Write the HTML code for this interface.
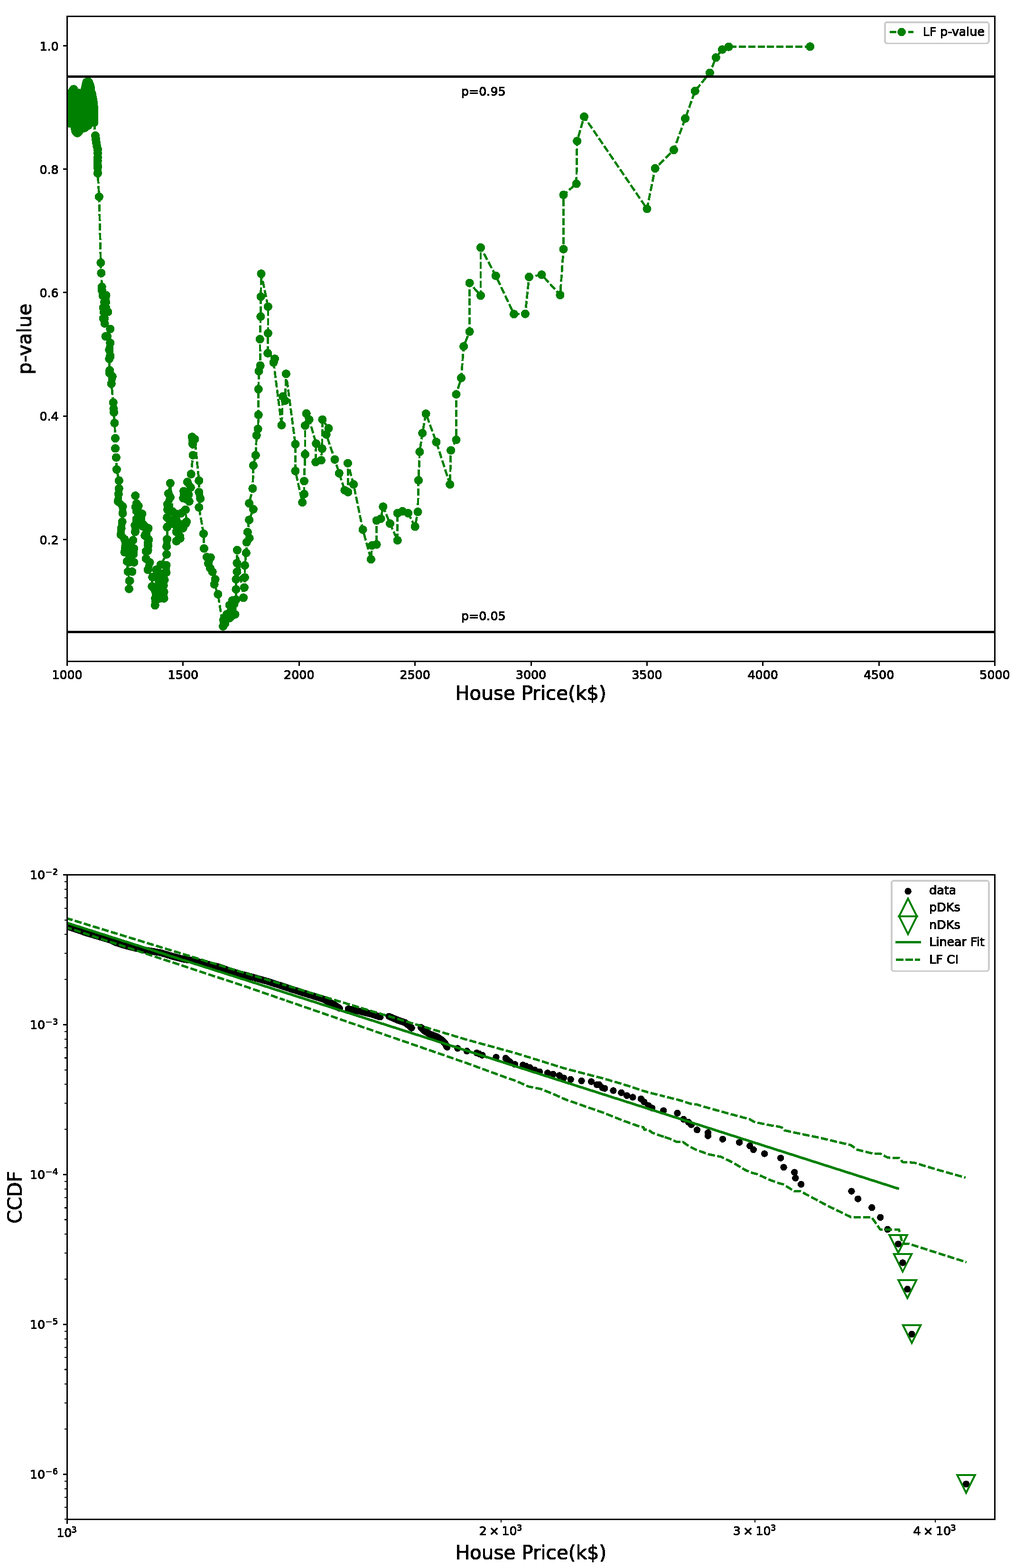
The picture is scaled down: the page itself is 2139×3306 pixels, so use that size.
<!DOCTYPE html>
<html lang="en"><head><meta charset="utf-8"><title>LF p-value and CCDF of House Price</title>
<style>
html,body{margin:0;padding:0;background:#fff;}
svg{display:block;}
</style></head>
<body>
<svg width="2139" height="3306" viewBox="0 0 2139 3306" shape-rendering="crispEdges">
<defs><filter id="thr" x="-5%" y="-5%" width="110%" height="110%" color-interpolation-filters="sRGB"><feComponentTransfer result="t"><feFuncA type="discrete" tableValues="0 1"/></feComponentTransfer><feOffset in="t" dx="-1" dy="0" result="a"/><feOffset in="t" dx="0" dy="-1" result="b"/><feOffset in="t" dx="-1" dy="-1" result="c"/><feMerge><feMergeNode in="t"/><feMergeNode in="a"/><feMergeNode in="b"/><feMergeNode in="c"/></feMerge></filter></defs>
<rect x="0" y="0" width="2139" height="3306" fill="#fff"/>
<g id="chart1">
<clipPath id="c1"><rect x="141.5" y="34.6" width="1955" height="1359.9"/></clipPath>
<g clip-path="url(#c1)">
<polyline points="142.1,204.3 142.1,258.8 146.6,259.8 148.5,198.4 155.3,188.1 155.3,256.9 159.2,276.4 163.1,280.6 167,276.4 163.1,195.5 170.9,198.4 171.9,270.5 178.7,269.5 178.7,190.6 182.6,173.1 185.5,264.7 188.4,254.9 186.5,172.5 190.4,181.9 194.3,249.1 197.8,258.4 197.2,217.9 193.3,196.5 197.8,225.7 198.2,241.3 198.2,258.4 201.1,286.1 202.1,293.9 203.1,301.7 204.4,308.5 206,315.3 206,323.1 206,331.9 205.8,338.7 205.6,346.5 205.8,353.3 206,350.7 206,365.3 208.9,415 212.4,554 213.4,575.8 214.7,605 214.7,611.8 216.7,623.5 223.5,622.5 223.1,637.1 217.7,648.8 227.4,657.6 217.7,671.2 220.6,681.9 232.3,693.6 222.5,709.2 232.3,722.9 230.3,737.5 232.3,750.1 232.3,751.7 230.3,756.6 231.3,780.9 230.9,786.8 236.8,793.6 234.8,809.2 238.7,848.7 239.5,861.8 240.1,869.5 241.4,891.9 243,924.1 243,945.5 244.9,964.6 245.9,989.9 250.8,1013.3 250.8,1029.9 249.8,1041.6 248.8,1057.1 258.6,1067.9 258.6,1082.5 257.6,1100 255.6,1113.6 254.7,1127.3 262.5,1137 264.4,1150.6 262.5,1164.3 263.8,1156.5 267.7,1183.8 269.7,1205.2 272.6,1224.7 272,1241.6 273.6,1224.7 278.4,1205.2 282.3,1185.7 281.4,1168.2 282.3,1156.5 280.4,1139 285.3,1119.5 284.3,1107.8 284.9,1121.4 285.8,1107.8 287.8,1094.2 285.8,1068.8 287.8,1062 285.3,1045.1 291.7,1066.9 299.5,1083.4 297.5,1098.1 300.5,1109.7 312.1,1114.6 305.3,1129.2 313.1,1138 312.1,1150.6 311.2,1161.4 301.8,1105.8 312.5,1113.6 307.7,1125.3 312.5,1137 311.6,1144.8 307.7,1162.3 311.6,1160.4 307.7,1177.9 315.5,1185.7 311.6,1201.3 321.3,1216.9 320.3,1236.4 328.1,1248.1 327.1,1261.7 326.8,1276.3 336.9,1261.7 345.6,1261.7 345.6,1248.1 336.9,1236.4 344.7,1234.4 346.6,1222.7 336.9,1209.1 350.5,1207.1 350.5,1191.6 338.8,1190.6 351.1,1168.8 351.1,1152.2 352.1,1137 352.5,1110.7 352.1,1111.7 352.1,1091.2 353.1,1074.7 353.1,1063 358.9,1048.4 355,1040.6 358.9,1018.8 363.8,1078.6 363.8,1098.1 373.5,1084.4 371.6,1121.4 379.4,1131.2 371.6,1140.9 371.9,1140.9 379.7,1135.1 375.8,1125.3 371.9,1109.7 385.6,1113.6 391.4,1103.9 383.2,1105.8 393,1100 391,1074.7 381.3,1082.5 398.8,1057.1 386.2,1050.3 387.1,1035.7 401.8,1027.9 394.9,1016.2 402.7,999.7 406.6,959.7 405.6,934.8 404.7,921.2 410.5,926 419.3,1013.3 419.3,1037.7 422.2,1051.3 419.3,1069.8 429,1125.3 430,1156.5 436,1174.5 443.8,1175.5 439,1188.2 442.9,1197.9 447.7,1205.7 453.6,1221.3 451.6,1232 459.4,1252.9 470.1,1320.6 471.1,1307 477.9,1295.3 483.8,1303.1 495.5,1295.3 483.8,1275.8 493.5,1273.9 497.4,1264.2 497.4,1242.7 497.4,1221.3 499.4,1205.7 499.4,1187.2 499.9,1159.9 513,1260.3 514.9,1238.8 515.9,1217.4 515.9,1192.1 518.8,1165.8 519.8,1143.4 525.6,1134.6 521.8,1121.9 525.1,1096.2 533.9,1073.8 525.1,1061.2 532.5,1030 533.9,981.3 538.8,959.9 540.7,918 543.6,904.4 544.7,874.8 544.7,820.6 545.5,782.5 548.6,770.8 547.8,715.1 549.4,667.5 549.7,625.5 550.5,577.1 564.9,646.5 564.9,702.6 564.2,744.7 579,756.4 576.6,764.2 593.5,896.4" fill="none" stroke="#008000" stroke-width="4.8" stroke-dasharray="15 4.875" stroke-dashoffset="0.00" stroke-linejoin="round"/>
<polyline points="593.5,896.4 596,836 600.9,844.7 602.9,788.2 622.5,936.5 622.5,993 637.2,1059.2 641,1041.7 641,1014.4 643,957.9 643,897.3 645.7,872 651.6,884.7 666.2,935.3 665.2,974.3 676.9,970.4 678.8,946 679.4,884.7 692.5,903.2 687.6,915.9 705.5,968.8 714.7,997.9 726.4,1033.7 733.4,1037.6 733,976.6 745.1,1021.3 764.6,1116.7 781.9,1179.3 783.9,1150 793.6,1148 793.6,1097.5 802.6,1093.6 807.3,1068.3 822,1104 837.7,1139.2 837.7,1082 848.2,1078 859.9,1082 874.7,1110.3 880.5,1079.2 882,1012.6 884.4,952.6 890.2,913.2 897.6,872.3 919.5,932 948.3,1021.5 950.2,949.5 961.5,927.3 961.5,831.4 972,796.8 977.1,730.3 989.6,699.2 989.6,596.7 1013,623.2 1013,521.9 1044.9,581.5 1083.1,662.2 1106.9,661.8 1115,583.9 1141.5,579.2 1180.5,622 1187.5,525.4 1187.5,410.9 1214.7,387.4 1216.2,297.4 1231,246 1363.5,440.3 1380.6,355 1420,316.1 1444.1,249.8 1464.8,191.8 1495.9,153.6 1508.8,121.3 1522,104.5 1535.7,98.7 1707.1,98.3" fill="none" stroke="#008000" stroke-width="4.8" stroke-dasharray="15 4.875" stroke-dashoffset="18.42" stroke-linejoin="round"/>
<polyline points="142.1,204.3 142.1,258.8 146.6,259.8 148.5,198.4 155.3,188.1 155.3,256.9 159.2,276.4 163.1,280.6 167,276.4 163.1,195.5 170.9,198.4 171.9,270.5 178.7,269.5 178.7,190.6 182.6,173.1 185.5,264.7 188.4,254.9 186.5,172.5 190.4,181.9 194.3,249.1 197.8,258.4 197.2,217.9 193.3,196.5 197.8,225.7 198.2,241.3 198.2,258.4" fill="none" stroke="#008000" stroke-width="18.2" stroke-linejoin="round" stroke-linecap="round"/>
<polyline points="201.1,286.1 202.1,293.9 203.1,301.7 204.4,308.5 206,315.3 206,323.1 206,331.9 205.8,338.7 205.6,346.5 205.8,353.3 206,350.7 206,365.3" fill="none" stroke="#008000" stroke-width="15.5" stroke-linejoin="round" stroke-linecap="round"/>
<polyline points="214.7,605 214.7,611.8 216.7,623.5 223.5,622.5 223.1,637.1 217.7,648.8 227.4,657.6" fill="none" stroke="#008000" stroke-width="15.5" stroke-linejoin="round" stroke-linecap="round"/>
<polyline points="217.7,671.2 220.6,681.9" fill="none" stroke="#008000" stroke-width="15.5" stroke-linejoin="round" stroke-linecap="round"/>
<polyline points="232.3,722.9 230.3,737.5 232.3,750.1 232.3,751.7 230.3,756.6" fill="none" stroke="#008000" stroke-width="15.5" stroke-linejoin="round" stroke-linecap="round"/>
<polyline points="231.3,780.9 230.9,786.8 236.8,793.6 234.8,809.2" fill="none" stroke="#008000" stroke-width="15.5" stroke-linejoin="round" stroke-linecap="round"/>
<polyline points="250.8,1029.9 249.8,1041.6 248.8,1057.1 258.6,1067.9 258.6,1082.5" fill="none" stroke="#008000" stroke-width="15.5" stroke-linejoin="round" stroke-linecap="round"/>
<polyline points="257.6,1100 255.6,1113.6 254.7,1127.3 262.5,1137 264.4,1150.6 262.5,1164.3 263.8,1156.5" fill="none" stroke="#008000" stroke-width="15.5" stroke-linejoin="round" stroke-linecap="round"/>
<polyline points="281.4,1168.2 282.3,1156.5" fill="none" stroke="#008000" stroke-width="15.5" stroke-linejoin="round" stroke-linecap="round"/>
<polyline points="285.3,1119.5 284.3,1107.8 284.9,1121.4 285.8,1107.8 287.8,1094.2" fill="none" stroke="#008000" stroke-width="15.5" stroke-linejoin="round" stroke-linecap="round"/>
<polyline points="285.8,1068.8 287.8,1062" fill="none" stroke="#008000" stroke-width="15.5" stroke-linejoin="round" stroke-linecap="round"/>
<polyline points="299.5,1083.4 297.5,1098.1 300.5,1109.7 312.1,1114.6 305.3,1129.2 313.1,1138 312.1,1150.6 311.2,1161.4" fill="none" stroke="#008000" stroke-width="15.5" stroke-linejoin="round" stroke-linecap="round"/>
<polyline points="301.8,1105.8 312.5,1113.6 307.7,1125.3 312.5,1137 311.6,1144.8" fill="none" stroke="#008000" stroke-width="15.5" stroke-linejoin="round" stroke-linecap="round"/>
<polyline points="307.7,1162.3 311.6,1160.4" fill="none" stroke="#008000" stroke-width="15.5" stroke-linejoin="round" stroke-linecap="round"/>
<polyline points="307.7,1177.9 315.5,1185.7 311.6,1201.3" fill="none" stroke="#008000" stroke-width="15.5" stroke-linejoin="round" stroke-linecap="round"/>
<polyline points="320.3,1236.4 328.1,1248.1 327.1,1261.7 326.8,1276.3" fill="none" stroke="#008000" stroke-width="15.5" stroke-linejoin="round" stroke-linecap="round"/>
<polyline points="336.9,1261.7 345.6,1261.7 345.6,1248.1 336.9,1236.4 344.7,1234.4 346.6,1222.7" fill="none" stroke="#008000" stroke-width="15.5" stroke-linejoin="round" stroke-linecap="round"/>
<polyline points="336.9,1209.1 350.5,1207.1 350.5,1191.6 338.8,1190.6" fill="none" stroke="#008000" stroke-width="15.5" stroke-linejoin="round" stroke-linecap="round"/>
<polyline points="351.1,1152.2 352.1,1137" fill="none" stroke="#008000" stroke-width="15.5" stroke-linejoin="round" stroke-linecap="round"/>
<polyline points="352.5,1110.7 352.1,1111.7" fill="none" stroke="#008000" stroke-width="15.5" stroke-linejoin="round" stroke-linecap="round"/>
<polyline points="353.1,1074.7 353.1,1063 358.9,1048.4 355,1040.6" fill="none" stroke="#008000" stroke-width="15.5" stroke-linejoin="round" stroke-linecap="round"/>
<polyline points="371.6,1121.4 379.4,1131.2 371.6,1140.9 371.9,1140.9 379.7,1135.1 375.8,1125.3 371.9,1109.7 385.6,1113.6 391.4,1103.9" fill="none" stroke="#008000" stroke-width="15.5" stroke-linejoin="round" stroke-linecap="round"/>
<polyline points="383.2,1105.8 393,1100" fill="none" stroke="#008000" stroke-width="15.5" stroke-linejoin="round" stroke-linecap="round"/>
<polyline points="391,1074.7 381.3,1082.5" fill="none" stroke="#008000" stroke-width="15.5" stroke-linejoin="round" stroke-linecap="round"/>
<polyline points="398.8,1057.1 386.2,1050.3 387.1,1035.7" fill="none" stroke="#008000" stroke-width="15.5" stroke-linejoin="round" stroke-linecap="round"/>
<polyline points="401.8,1027.9 394.9,1016.2" fill="none" stroke="#008000" stroke-width="15.5" stroke-linejoin="round" stroke-linecap="round"/>
<polyline points="405.6,934.8 404.7,921.2 410.5,926" fill="none" stroke="#008000" stroke-width="15.5" stroke-linejoin="round" stroke-linecap="round"/>
<polyline points="419.3,1037.7 422.2,1051.3" fill="none" stroke="#008000" stroke-width="15.5" stroke-linejoin="round" stroke-linecap="round"/>
<polyline points="436,1174.5 443.8,1175.5 439,1188.2 442.9,1197.9 447.7,1205.7" fill="none" stroke="#008000" stroke-width="15.5" stroke-linejoin="round" stroke-linecap="round"/>
<polyline points="453.6,1221.3 451.6,1232" fill="none" stroke="#008000" stroke-width="15.5" stroke-linejoin="round" stroke-linecap="round"/>
<polyline points="470.1,1320.6 471.1,1307 477.9,1295.3 483.8,1303.1 495.5,1295.3" fill="none" stroke="#008000" stroke-width="15.5" stroke-linejoin="round" stroke-linecap="round"/>
<polyline points="483.8,1275.8 493.5,1273.9 497.4,1264.2" fill="none" stroke="#008000" stroke-width="15.5" stroke-linejoin="round" stroke-linecap="round"/>
<polyline points="371.6,1096.1 363.8,1103.9" fill="none" stroke="#008000" stroke-width="15.5" stroke-linejoin="round" stroke-linecap="round"/>
<polyline points="271.6,1144.8 272.2,1158.4 272.6,1174 271.6,1185.7" fill="none" stroke="#008000" stroke-width="15.5" stroke-linejoin="round" stroke-linecap="round"/>
<polyline points="329.1,1201.3 333,1216.9 334.9,1232.5 336.9,1248.1 334.9,1259.7" fill="none" stroke="#008000" stroke-width="15.5" stroke-linejoin="round" stroke-linecap="round"/>
<polyline points="474,1314.8 477.9,1305.1 487.7,1297.3 485.7,1289.5 489.6,1283.6 489.6,1266.1" fill="none" stroke="#008000" stroke-width="15.5" stroke-linejoin="round" stroke-linecap="round"/>
<polyline points="272.2,1144.8 273.2,1156.5 273.2,1168.2" fill="none" stroke="#008000" stroke-width="15.5" stroke-linejoin="round" stroke-linecap="round"/>
<polyline points="220,637.1 223.1,648.8 219,658.6 220.2,671.2" fill="none" stroke="#008000" stroke-width="15.5" stroke-linejoin="round" stroke-linecap="round"/>
<g fill="#008000">
<circle cx="142.1" cy="204.3" r="9.1"/>
<circle cx="142.1" cy="258.8" r="9.1"/>
<circle cx="146.6" cy="259.8" r="9.1"/>
<circle cx="148.5" cy="198.4" r="9.1"/>
<circle cx="155.3" cy="188.1" r="9.1"/>
<circle cx="155.3" cy="256.9" r="9.1"/>
<circle cx="159.2" cy="276.4" r="9.1"/>
<circle cx="163.1" cy="280.6" r="9.1"/>
<circle cx="167" cy="276.4" r="9.1"/>
<circle cx="163.1" cy="195.5" r="9.1"/>
<circle cx="170.9" cy="198.4" r="9.1"/>
<circle cx="171.9" cy="270.5" r="9.1"/>
<circle cx="178.7" cy="269.5" r="9.1"/>
<circle cx="178.7" cy="190.6" r="9.1"/>
<circle cx="182.6" cy="173.1" r="9.1"/>
<circle cx="185.5" cy="264.7" r="9.1"/>
<circle cx="188.4" cy="254.9" r="9.1"/>
<circle cx="186.5" cy="172.5" r="9.1"/>
<circle cx="190.4" cy="181.9" r="9.1"/>
<circle cx="194.3" cy="249.1" r="9.1"/>
<circle cx="197.8" cy="258.4" r="9.1"/>
<circle cx="197.2" cy="217.9" r="9.1"/>
<circle cx="193.3" cy="196.5" r="9.1"/>
<circle cx="197.8" cy="225.7" r="9.1"/>
<circle cx="198.2" cy="241.3" r="9.1"/>
<circle cx="198.2" cy="258.4" r="9.1"/>
<circle cx="201.1" cy="286.1" r="9.1"/>
<circle cx="202.1" cy="293.9" r="9.1"/>
<circle cx="203.1" cy="301.7" r="9.1"/>
<circle cx="204.4" cy="308.5" r="9.1"/>
<circle cx="206" cy="315.3" r="9.1"/>
<circle cx="206" cy="323.1" r="9.1"/>
<circle cx="206" cy="331.9" r="9.1"/>
<circle cx="205.8" cy="338.7" r="9.1"/>
<circle cx="205.6" cy="346.5" r="9.1"/>
<circle cx="205.8" cy="353.3" r="9.1"/>
<circle cx="206" cy="350.7" r="9.1"/>
<circle cx="206" cy="365.3" r="9.1"/>
<circle cx="208.9" cy="415" r="9.1"/>
<circle cx="212.4" cy="554" r="9.1"/>
<circle cx="213.4" cy="575.8" r="9.1"/>
<circle cx="214.7" cy="605" r="9.1"/>
<circle cx="214.7" cy="611.8" r="9.1"/>
<circle cx="216.7" cy="623.5" r="9.1"/>
<circle cx="223.5" cy="622.5" r="9.1"/>
<circle cx="223.1" cy="637.1" r="9.1"/>
<circle cx="217.7" cy="648.8" r="9.1"/>
<circle cx="227.4" cy="657.6" r="9.1"/>
<circle cx="217.7" cy="671.2" r="9.1"/>
<circle cx="220.6" cy="681.9" r="9.1"/>
<circle cx="232.3" cy="693.6" r="9.1"/>
<circle cx="222.5" cy="709.2" r="9.1"/>
<circle cx="232.3" cy="722.9" r="9.1"/>
<circle cx="230.3" cy="737.5" r="9.1"/>
<circle cx="232.3" cy="750.1" r="9.1"/>
<circle cx="232.3" cy="751.7" r="9.1"/>
<circle cx="230.3" cy="756.6" r="9.1"/>
<circle cx="231.3" cy="780.9" r="9.1"/>
<circle cx="230.9" cy="786.8" r="9.1"/>
<circle cx="236.8" cy="793.6" r="9.1"/>
<circle cx="234.8" cy="809.2" r="9.1"/>
<circle cx="238.7" cy="848.7" r="9.1"/>
<circle cx="239.5" cy="861.8" r="9.1"/>
<circle cx="240.1" cy="869.5" r="9.1"/>
<circle cx="241.4" cy="891.9" r="9.1"/>
<circle cx="243" cy="924.1" r="9.1"/>
<circle cx="243" cy="945.5" r="9.1"/>
<circle cx="244.9" cy="964.6" r="9.1"/>
<circle cx="245.9" cy="989.9" r="9.1"/>
<circle cx="250.8" cy="1013.3" r="9.1"/>
<circle cx="250.8" cy="1029.9" r="9.1"/>
<circle cx="249.8" cy="1041.6" r="9.1"/>
<circle cx="248.8" cy="1057.1" r="9.1"/>
<circle cx="258.6" cy="1067.9" r="9.1"/>
<circle cx="258.6" cy="1082.5" r="9.1"/>
<circle cx="257.6" cy="1100" r="9.1"/>
<circle cx="255.6" cy="1113.6" r="9.1"/>
<circle cx="254.7" cy="1127.3" r="9.1"/>
<circle cx="262.5" cy="1137" r="9.1"/>
<circle cx="264.4" cy="1150.6" r="9.1"/>
<circle cx="262.5" cy="1164.3" r="9.1"/>
<circle cx="263.8" cy="1156.5" r="9.1"/>
<circle cx="267.7" cy="1183.8" r="9.1"/>
<circle cx="269.7" cy="1205.2" r="9.1"/>
<circle cx="272.6" cy="1224.7" r="9.1"/>
<circle cx="272" cy="1241.6" r="9.1"/>
<circle cx="273.6" cy="1224.7" r="9.1"/>
<circle cx="278.4" cy="1205.2" r="9.1"/>
<circle cx="282.3" cy="1185.7" r="9.1"/>
<circle cx="281.4" cy="1168.2" r="9.1"/>
<circle cx="282.3" cy="1156.5" r="9.1"/>
<circle cx="280.4" cy="1139" r="9.1"/>
<circle cx="285.3" cy="1119.5" r="9.1"/>
<circle cx="284.3" cy="1107.8" r="9.1"/>
<circle cx="284.9" cy="1121.4" r="9.1"/>
<circle cx="285.8" cy="1107.8" r="9.1"/>
<circle cx="287.8" cy="1094.2" r="9.1"/>
<circle cx="285.8" cy="1068.8" r="9.1"/>
<circle cx="287.8" cy="1062" r="9.1"/>
<circle cx="285.3" cy="1045.1" r="9.1"/>
<circle cx="291.7" cy="1066.9" r="9.1"/>
<circle cx="299.5" cy="1083.4" r="9.1"/>
<circle cx="297.5" cy="1098.1" r="9.1"/>
<circle cx="300.5" cy="1109.7" r="9.1"/>
<circle cx="312.1" cy="1114.6" r="9.1"/>
<circle cx="305.3" cy="1129.2" r="9.1"/>
<circle cx="313.1" cy="1138" r="9.1"/>
<circle cx="312.1" cy="1150.6" r="9.1"/>
<circle cx="311.2" cy="1161.4" r="9.1"/>
<circle cx="301.8" cy="1105.8" r="9.1"/>
<circle cx="312.5" cy="1113.6" r="9.1"/>
<circle cx="307.7" cy="1125.3" r="9.1"/>
<circle cx="312.5" cy="1137" r="9.1"/>
<circle cx="311.6" cy="1144.8" r="9.1"/>
<circle cx="307.7" cy="1162.3" r="9.1"/>
<circle cx="311.6" cy="1160.4" r="9.1"/>
<circle cx="307.7" cy="1177.9" r="9.1"/>
<circle cx="315.5" cy="1185.7" r="9.1"/>
<circle cx="311.6" cy="1201.3" r="9.1"/>
<circle cx="321.3" cy="1216.9" r="9.1"/>
<circle cx="320.3" cy="1236.4" r="9.1"/>
<circle cx="328.1" cy="1248.1" r="9.1"/>
<circle cx="327.1" cy="1261.7" r="9.1"/>
<circle cx="326.8" cy="1276.3" r="9.1"/>
<circle cx="336.9" cy="1261.7" r="9.1"/>
<circle cx="345.6" cy="1261.7" r="9.1"/>
<circle cx="345.6" cy="1248.1" r="9.1"/>
<circle cx="336.9" cy="1236.4" r="9.1"/>
<circle cx="344.7" cy="1234.4" r="9.1"/>
<circle cx="346.6" cy="1222.7" r="9.1"/>
<circle cx="336.9" cy="1209.1" r="9.1"/>
<circle cx="350.5" cy="1207.1" r="9.1"/>
<circle cx="350.5" cy="1191.6" r="9.1"/>
<circle cx="338.8" cy="1190.6" r="9.1"/>
<circle cx="351.1" cy="1168.8" r="9.1"/>
<circle cx="351.1" cy="1152.2" r="9.1"/>
<circle cx="352.1" cy="1137" r="9.1"/>
<circle cx="352.5" cy="1110.7" r="9.1"/>
<circle cx="352.1" cy="1111.7" r="9.1"/>
<circle cx="352.1" cy="1091.2" r="9.1"/>
<circle cx="353.1" cy="1074.7" r="9.1"/>
<circle cx="353.1" cy="1063" r="9.1"/>
<circle cx="358.9" cy="1048.4" r="9.1"/>
<circle cx="355" cy="1040.6" r="9.1"/>
<circle cx="358.9" cy="1018.8" r="9.1"/>
<circle cx="363.8" cy="1078.6" r="9.1"/>
<circle cx="363.8" cy="1098.1" r="9.1"/>
<circle cx="373.5" cy="1084.4" r="9.1"/>
<circle cx="371.6" cy="1121.4" r="9.1"/>
<circle cx="379.4" cy="1131.2" r="9.1"/>
<circle cx="371.6" cy="1140.9" r="9.1"/>
<circle cx="371.9" cy="1140.9" r="9.1"/>
<circle cx="379.7" cy="1135.1" r="9.1"/>
<circle cx="375.8" cy="1125.3" r="9.1"/>
<circle cx="371.9" cy="1109.7" r="9.1"/>
<circle cx="385.6" cy="1113.6" r="9.1"/>
<circle cx="391.4" cy="1103.9" r="9.1"/>
<circle cx="383.2" cy="1105.8" r="9.1"/>
<circle cx="393" cy="1100" r="9.1"/>
<circle cx="391" cy="1074.7" r="9.1"/>
<circle cx="381.3" cy="1082.5" r="9.1"/>
<circle cx="398.8" cy="1057.1" r="9.1"/>
<circle cx="386.2" cy="1050.3" r="9.1"/>
<circle cx="387.1" cy="1035.7" r="9.1"/>
<circle cx="401.8" cy="1027.9" r="9.1"/>
<circle cx="394.9" cy="1016.2" r="9.1"/>
<circle cx="402.7" cy="999.7" r="9.1"/>
<circle cx="406.6" cy="959.7" r="9.1"/>
<circle cx="405.6" cy="934.8" r="9.1"/>
<circle cx="404.7" cy="921.2" r="9.1"/>
<circle cx="410.5" cy="926" r="9.1"/>
<circle cx="419.3" cy="1013.3" r="9.1"/>
<circle cx="419.3" cy="1037.7" r="9.1"/>
<circle cx="422.2" cy="1051.3" r="9.1"/>
<circle cx="419.3" cy="1069.8" r="9.1"/>
<circle cx="429" cy="1125.3" r="9.1"/>
<circle cx="430" cy="1156.5" r="9.1"/>
<circle cx="436" cy="1174.5" r="9.1"/>
<circle cx="443.8" cy="1175.5" r="9.1"/>
<circle cx="439" cy="1188.2" r="9.1"/>
<circle cx="442.9" cy="1197.9" r="9.1"/>
<circle cx="447.7" cy="1205.7" r="9.1"/>
<circle cx="453.6" cy="1221.3" r="9.1"/>
<circle cx="451.6" cy="1232" r="9.1"/>
<circle cx="459.4" cy="1252.9" r="9.1"/>
<circle cx="470.1" cy="1320.6" r="9.1"/>
<circle cx="471.1" cy="1307" r="9.1"/>
<circle cx="477.9" cy="1295.3" r="9.1"/>
<circle cx="483.8" cy="1303.1" r="9.1"/>
<circle cx="495.5" cy="1295.3" r="9.1"/>
<circle cx="483.8" cy="1275.8" r="9.1"/>
<circle cx="493.5" cy="1273.9" r="9.1"/>
<circle cx="497.4" cy="1264.2" r="9.1"/>
<circle cx="497.4" cy="1242.7" r="9.1"/>
<circle cx="497.4" cy="1221.3" r="9.1"/>
<circle cx="499.4" cy="1205.7" r="9.1"/>
<circle cx="499.4" cy="1187.2" r="9.1"/>
<circle cx="499.9" cy="1159.9" r="9.1"/>
<circle cx="513" cy="1260.3" r="9.1"/>
<circle cx="514.9" cy="1238.8" r="9.1"/>
<circle cx="515.9" cy="1217.4" r="9.1"/>
<circle cx="515.9" cy="1192.1" r="9.1"/>
<circle cx="518.8" cy="1165.8" r="9.1"/>
<circle cx="519.8" cy="1143.4" r="9.1"/>
<circle cx="525.6" cy="1134.6" r="9.1"/>
<circle cx="521.8" cy="1121.9" r="9.1"/>
<circle cx="525.1" cy="1096.2" r="9.1"/>
<circle cx="533.9" cy="1073.8" r="9.1"/>
<circle cx="525.1" cy="1061.2" r="9.1"/>
<circle cx="532.5" cy="1030" r="9.1"/>
<circle cx="533.9" cy="981.3" r="9.1"/>
<circle cx="538.8" cy="959.9" r="9.1"/>
<circle cx="540.7" cy="918" r="9.1"/>
<circle cx="543.6" cy="904.4" r="9.1"/>
<circle cx="544.7" cy="874.8" r="9.1"/>
<circle cx="544.7" cy="820.6" r="9.1"/>
<circle cx="545.5" cy="782.5" r="9.1"/>
<circle cx="548.6" cy="770.8" r="9.1"/>
<circle cx="547.8" cy="715.1" r="9.1"/>
<circle cx="549.4" cy="667.5" r="9.1"/>
<circle cx="549.7" cy="625.5" r="9.1"/>
<circle cx="550.5" cy="577.1" r="9.1"/>
<circle cx="564.9" cy="646.5" r="9.1"/>
<circle cx="564.9" cy="702.6" r="9.1"/>
<circle cx="564.2" cy="744.7" r="9.1"/>
<circle cx="579" cy="756.4" r="9.1"/>
<circle cx="576.6" cy="764.2" r="9.1"/>
<circle cx="593.5" cy="896.4" r="9.1"/>
<circle cx="596" cy="836" r="9.1"/>
<circle cx="600.9" cy="844.7" r="9.1"/>
<circle cx="602.9" cy="788.2" r="9.1"/>
<circle cx="622.5" cy="936.5" r="9.1"/>
<circle cx="622.5" cy="993" r="9.1"/>
<circle cx="637.2" cy="1059.2" r="9.1"/>
<circle cx="641" cy="1041.7" r="9.1"/>
<circle cx="641" cy="1014.4" r="9.1"/>
<circle cx="643" cy="957.9" r="9.1"/>
<circle cx="643" cy="897.3" r="9.1"/>
<circle cx="645.7" cy="872" r="9.1"/>
<circle cx="651.6" cy="884.7" r="9.1"/>
<circle cx="666.2" cy="935.3" r="9.1"/>
<circle cx="665.2" cy="974.3" r="9.1"/>
<circle cx="676.9" cy="970.4" r="9.1"/>
<circle cx="678.8" cy="946" r="9.1"/>
<circle cx="679.4" cy="884.7" r="9.1"/>
<circle cx="692.5" cy="903.2" r="9.1"/>
<circle cx="687.6" cy="915.9" r="9.1"/>
<circle cx="705.5" cy="968.8" r="9.1"/>
<circle cx="714.7" cy="997.9" r="9.1"/>
<circle cx="726.4" cy="1033.7" r="9.1"/>
<circle cx="733.4" cy="1037.6" r="9.1"/>
<circle cx="733" cy="976.6" r="9.1"/>
<circle cx="745.1" cy="1021.3" r="9.1"/>
<circle cx="764.6" cy="1116.7" r="9.1"/>
<circle cx="781.9" cy="1179.3" r="9.1"/>
<circle cx="783.9" cy="1150" r="9.1"/>
<circle cx="793.6" cy="1148" r="9.1"/>
<circle cx="793.6" cy="1097.5" r="9.1"/>
<circle cx="802.6" cy="1093.6" r="9.1"/>
<circle cx="807.3" cy="1068.3" r="9.1"/>
<circle cx="822" cy="1104" r="9.1"/>
<circle cx="837.7" cy="1139.2" r="9.1"/>
<circle cx="837.7" cy="1082" r="9.1"/>
<circle cx="848.2" cy="1078" r="9.1"/>
<circle cx="859.9" cy="1082" r="9.1"/>
<circle cx="874.7" cy="1110.3" r="9.1"/>
<circle cx="880.5" cy="1079.2" r="9.1"/>
<circle cx="882" cy="1012.6" r="9.1"/>
<circle cx="884.4" cy="952.6" r="9.1"/>
<circle cx="890.2" cy="913.2" r="9.1"/>
<circle cx="897.6" cy="872.3" r="9.1"/>
<circle cx="919.5" cy="932" r="9.1"/>
<circle cx="948.3" cy="1021.5" r="9.1"/>
<circle cx="950.2" cy="949.5" r="9.1"/>
<circle cx="961.5" cy="927.3" r="9.1"/>
<circle cx="961.5" cy="831.4" r="9.1"/>
<circle cx="972" cy="796.8" r="9.1"/>
<circle cx="977.1" cy="730.3" r="9.1"/>
<circle cx="989.6" cy="699.2" r="9.1"/>
<circle cx="989.6" cy="596.7" r="9.1"/>
<circle cx="1013" cy="623.2" r="9.1"/>
<circle cx="1013" cy="521.9" r="9.1"/>
<circle cx="1044.9" cy="581.5" r="9.1"/>
<circle cx="1083.1" cy="662.2" r="9.1"/>
<circle cx="1106.9" cy="661.8" r="9.1"/>
<circle cx="1115" cy="583.9" r="9.1"/>
<circle cx="1141.5" cy="579.2" r="9.1"/>
<circle cx="1180.5" cy="622" r="9.1"/>
<circle cx="1187.5" cy="525.4" r="9.1"/>
<circle cx="1187.5" cy="410.9" r="9.1"/>
<circle cx="1214.7" cy="387.4" r="9.1"/>
<circle cx="1216.2" cy="297.4" r="9.1"/>
<circle cx="1231" cy="246" r="9.1"/>
<circle cx="1363.5" cy="440.3" r="9.1"/>
<circle cx="1380.6" cy="355" r="9.1"/>
<circle cx="1420" cy="316.1" r="9.1"/>
<circle cx="1444.1" cy="249.8" r="9.1"/>
<circle cx="1464.8" cy="191.8" r="9.1"/>
<circle cx="1495.9" cy="153.6" r="9.1"/>
<circle cx="1508.8" cy="121.3" r="9.1"/>
<circle cx="1522" cy="104.5" r="9.1"/>
<circle cx="1535.7" cy="98.7" r="9.1"/>
<circle cx="1707.1" cy="98.3" r="9.1"/>
<circle cx="287.8" cy="1077.9" r="9.1"/>
<circle cx="371.6" cy="1096.1" r="9.1"/>
<circle cx="363.8" cy="1103.9" r="9.1"/>
<circle cx="397.5" cy="1042.9" r="9.1"/>
<circle cx="271.6" cy="1144.8" r="9.1"/>
<circle cx="272.2" cy="1158.4" r="9.1"/>
<circle cx="272.6" cy="1174" r="9.1"/>
<circle cx="271.6" cy="1185.7" r="9.1"/>
<circle cx="329.1" cy="1201.3" r="9.1"/>
<circle cx="333" cy="1216.9" r="9.1"/>
<circle cx="334.9" cy="1232.5" r="9.1"/>
<circle cx="336.9" cy="1248.1" r="9.1"/>
<circle cx="334.9" cy="1259.7" r="9.1"/>
<circle cx="474" cy="1314.8" r="9.1"/>
<circle cx="477.9" cy="1305.1" r="9.1"/>
<circle cx="487.7" cy="1297.3" r="9.1"/>
<circle cx="485.7" cy="1289.5" r="9.1"/>
<circle cx="489.6" cy="1283.6" r="9.1"/>
<circle cx="489.6" cy="1266.1" r="9.1"/>
<circle cx="406.3" cy="936.5" r="9.1"/>
<circle cx="272.2" cy="1144.8" r="9.1"/>
<circle cx="273.2" cy="1156.5" r="9.1"/>
<circle cx="273.2" cy="1168.2" r="9.1"/>
<circle cx="220" cy="637.1" r="9.1"/>
<circle cx="223.1" cy="648.8" r="9.1"/>
<circle cx="219" cy="658.6" r="9.1"/>
<circle cx="220.2" cy="671.2" r="9.1"/>
<circle cx="226" cy="709.2" r="9.1"/>
</g>
<line x1="141.5" x2="2096.5" y1="161.6" y2="161.6" stroke="#000" stroke-width="5.2"/>
<line x1="141.5" x2="2096.5" y1="1332.4" y2="1332.4" stroke="#000" stroke-width="5.2"/>
</g>
<rect x="141.5" y="34.6" width="1955" height="1359.9" fill="none" stroke="#000" stroke-width="3.0"/>
<g stroke="#000" stroke-width="3.0">
<line x1="141.5" x2="141.5" y1="1394.5" y2="1404.3"/>
<line x1="385.9" x2="385.9" y1="1394.5" y2="1404.3"/>
<line x1="630.2" x2="630.2" y1="1394.5" y2="1404.3"/>
<line x1="874.6" x2="874.6" y1="1394.5" y2="1404.3"/>
<line x1="1119" x2="1119" y1="1394.5" y2="1404.3"/>
<line x1="1363.4" x2="1363.4" y1="1394.5" y2="1404.3"/>
<line x1="1607.8" x2="1607.8" y1="1394.5" y2="1404.3"/>
<line x1="1852.1" x2="1852.1" y1="1394.5" y2="1404.3"/>
<line x1="2096.5" x2="2096.5" y1="1394.5" y2="1404.3"/>
<line x1="132.7" x2="141.5" y1="1137.3" y2="1137.3"/>
<line x1="132.7" x2="141.5" y1="877.1" y2="877.1"/>
<line x1="132.7" x2="141.5" y1="616.9" y2="616.9"/>
<line x1="132.7" x2="141.5" y1="356.7" y2="356.7"/>
<line x1="132.7" x2="141.5" y1="96.5" y2="96.5"/>
</g>
<g font-family="'DejaVu Sans','Liberation Sans',sans-serif" font-size="25.3px" fill="#000" filter="url(#thr)">
<text x="142" y="1431.8" text-anchor="middle">1000</text>
<text x="386.4" y="1431.8" text-anchor="middle">1500</text>
<text x="630.8" y="1431.8" text-anchor="middle">2000</text>
<text x="875.1" y="1431.8" text-anchor="middle">2500</text>
<text x="1119.5" y="1431.8" text-anchor="middle">3000</text>
<text x="1363.9" y="1431.8" text-anchor="middle">3500</text>
<text x="1608.2" y="1431.8" text-anchor="middle">4000</text>
<text x="1852.6" y="1431.8" text-anchor="middle">4500</text>
<text x="2097" y="1431.8" text-anchor="middle">5000</text>
<text x="124.2" y="1147.5" text-anchor="end">0.2</text>
<text x="124.2" y="887.3" text-anchor="end">0.4</text>
<text x="124.2" y="627.1" text-anchor="end">0.6</text>
<text x="124.2" y="366.9" text-anchor="end">0.8</text>
<text x="124.2" y="106.7" text-anchor="end">1.0</text>
<text x="972.5" y="202">p=0.95</text>
<text x="972.5" y="1307.8">p=0.05</text>
</g>
<text x="1119" y="1476.4" text-anchor="middle" font-family="'DejaVu Sans','Liberation Sans',sans-serif" font-size="40.4px" filter="url(#thr)">House Price(k$)</text>
<text transform="translate(66.1 714.5) rotate(-90)" text-anchor="middle" font-family="'DejaVu Sans','Liberation Sans',sans-serif" font-size="40.4px" filter="url(#thr)">p-value</text>
<rect x="1864.7" y="46.7" width="219.3" height="44.6" rx="5" ry="5" fill="#fff" fill-opacity="0.8" stroke="#ccc" stroke-width="3.6"/>
<line x1="1874.5" x2="1925" y1="67.5" y2="67.5" stroke="#008000" stroke-width="4.6" stroke-dasharray="14.6 5.3"/>
<circle cx="1900.1" cy="67.5" r="8.8" fill="#008000"/>
<text x="1945.2" y="75.6" font-family="'DejaVu Sans','Liberation Sans',sans-serif" font-size="25.3px" filter="url(#thr)">LF p-value</text>
</g>
<g id="chart2">
<clipPath id="c2"><rect x="141.5" y="1844.5" width="1955" height="1358.9"/></clipPath>
<g clip-path="url(#c2)">
<polyline points="140,1952.7 156,1957.7 181.9,1966.8 207.9,1974.5 233.9,1982.3 244.3,1987.5 265.1,1994 285.8,1999.2 311.8,2004.4 337.8,2008.6 363.8,2016.4 389.7,2022.9 407.9,2025.2 423.5,2029.4 459.9,2038.4 493.6,2050.1 530,2059.7 565,2069.5 630,2090.6 681.8,2106.7 702.6,2116.9 715.6,2126" fill="none" stroke="#000" stroke-width="14.5" stroke-linejoin="round" stroke-linecap="round"/>
<polyline points="733.8,2127.3 760,2132.5 785.7,2139 801.3,2144.2" fill="none" stroke="#000" stroke-width="14.5" stroke-linejoin="round" stroke-linecap="round"/>
<polyline points="819.5,2142.9 837.7,2150.6 853.2,2155.8 863.6,2163.6 867.5,2167.5" fill="none" stroke="#000" stroke-width="14.5" stroke-linejoin="round" stroke-linecap="round"/>
<polyline points="887,2166.2 894.8,2174 905,2180 921,2186 931.9,2193.5 938,2200 942.3,2207.8" fill="none" stroke="#000" stroke-width="14.5" stroke-linejoin="round" stroke-linecap="round"/>
<g fill="#000">
<circle cx="964.4" cy="2210.4" r="7.2"/>
<circle cx="983.9" cy="2216.1" r="7.2"/>
<circle cx="1004.7" cy="2220" r="7.2"/>
<circle cx="1010" cy="2222" r="7.2"/>
<circle cx="1016.4" cy="2224.7" r="7.2"/>
<circle cx="1045.5" cy="2229.1" r="7.2"/>
<circle cx="1065.7" cy="2231.2" r="7.2"/>
<circle cx="1070" cy="2235" r="7.2"/>
<circle cx="1074.8" cy="2239" r="7.2"/>
<circle cx="1085.2" cy="2244.2" r="7.2"/>
<circle cx="1102.1" cy="2245.5" r="7.2"/>
<circle cx="1109" cy="2248" r="7.2"/>
<circle cx="1116.4" cy="2250.6" r="7.2"/>
<circle cx="1126.8" cy="2255.8" r="7.2"/>
<circle cx="1137.1" cy="2259.7" r="7.2"/>
<circle cx="1154" cy="2262.3" r="7.2"/>
<circle cx="1165.7" cy="2264.9" r="7.2"/>
<circle cx="1178.7" cy="2267.5" r="7.2"/>
<circle cx="1187.8" cy="2272.7" r="7.2"/>
<circle cx="1202.6" cy="2275.8" r="7.2"/>
<circle cx="1225.5" cy="2278.7" r="7.2"/>
<circle cx="1246.2" cy="2280.5" r="7.2"/>
<circle cx="1257.9" cy="2287" r="7.2"/>
<circle cx="1262.6" cy="2287" r="7.2"/>
<circle cx="1269.6" cy="2293.5" r="7.2"/>
<circle cx="1274.3" cy="2294.8" r="7.2"/>
<circle cx="1292.5" cy="2299.5" r="7.2"/>
<circle cx="1309.4" cy="2303.9" r="7.2"/>
<circle cx="1321" cy="2309.9" r="7.2"/>
<circle cx="1333.5" cy="2313.5" r="7.2"/>
<circle cx="1350.9" cy="2316.9" r="7.2"/>
<circle cx="1357.4" cy="2323.4" r="7.2"/>
<circle cx="1366.5" cy="2331.2" r="7.2"/>
<circle cx="1374.3" cy="2336.4" r="7.2"/>
<circle cx="1398.2" cy="2341.6" r="7.2"/>
<circle cx="1427.5" cy="2346.8" r="7.2"/>
<circle cx="1440.5" cy="2359.7" r="7.2"/>
<circle cx="1450.9" cy="2366.2" r="7.2"/>
<circle cx="1456.9" cy="2371.4" r="7.2"/>
<circle cx="1469.1" cy="2382.3" r="7.2"/>
<circle cx="1491.9" cy="2388.3" r="7.2"/>
<circle cx="1491.9" cy="2394.8" r="7.2"/>
<circle cx="1522.9" cy="2401.8" r="7.2"/>
<circle cx="1558.2" cy="2408.6" r="7.2"/>
<circle cx="1580.3" cy="2416.1" r="7.2"/>
<circle cx="1587.8" cy="2423.9" r="7.2"/>
<circle cx="1611.2" cy="2432.5" r="7.2"/>
<circle cx="1645.2" cy="2441.6" r="7.2"/>
<circle cx="1651.6" cy="2461.1" r="7.2"/>
<circle cx="1674.3" cy="2471.6" r="7.2"/>
<circle cx="1676.4" cy="2483.8" r="7.2"/>
<circle cx="1688.1" cy="2497" r="7.2"/>
<circle cx="1794.5" cy="2511.6" r="7.2"/>
<circle cx="1808.1" cy="2527.7" r="7.2"/>
<circle cx="1837.4" cy="2546.1" r="7.2"/>
<circle cx="1855.3" cy="2566.8" r="7.2"/>
<circle cx="1870.5" cy="2592" r="7.2"/>
<circle cx="1893" cy="2622.7" r="7.2"/>
<circle cx="1902.4" cy="2662.4" r="7.2"/>
<circle cx="1912.3" cy="2718" r="7.2"/>
<circle cx="1921.5" cy="2813" r="7.2"/>
<circle cx="2036" cy="3128.9" r="7.2"/>
</g>
<g fill="none" stroke="#008000" stroke-width="4" stroke-linejoin="miter">
<path d="M1874.2 2603.9L1911.8 2603.9L1893 2641.4Z"/>
<path d="M1883.7 2643.7L1921.2 2643.7L1902.4 2681.2Z"/>
<path d="M1893.5 2699.2L1931 2699.2L1912.3 2736.8Z"/>
<path d="M1902.8 2794.2L1940.2 2794.2L1921.5 2831.8Z"/>
<path d="M2017.2 3110.2L2054.8 3110.2L2036 3147.7Z"/>
</g>
<polyline points="141.5,1946 1894.5,2506.6" fill="none" stroke="#008000" stroke-width="5.4"/>
<polyline points="141.5,1936.4 515,2051.3 600,2076.8" fill="none" stroke="#008000" stroke-width="5.1" stroke-dasharray="15 4.875" stroke-dashoffset="3.10" stroke-linejoin="round"/>
<polyline points="600,2076.8 890,2164 983.9,2192.2 1087.8,2220.8 1191.7,2253.2 1270,2273.5 1311.9,2285.7 1363.9,2302.6 1400,2311.6" fill="none" stroke="#008000" stroke-width="5.1" stroke-dasharray="15 4.875" stroke-dashoffset="10.89" stroke-linejoin="round"/>
<polyline points="1400,2311.6 1426.2,2318.2 1436,2320.8 1457.4,2327.8 1467.8,2328.6 1493.8,2336.4 1545.7,2350.6 1579.5,2359.7 1589.9,2365.7 1623.6,2372.7 1642,2375.6 1647.8,2377.3 1653,2383.2 1679,2389 1717.9,2396.8 1756.9,2405.8 1793.2,2414.4 1806.2,2424 1837.4,2431.8 1855.6,2432.6 1871.2,2440.9 1894.5,2441.4 1902.3,2450 1925.7,2451.3 1977.7,2466.9 2034.8,2483" fill="none" stroke="#008000" stroke-width="5.1" stroke-dasharray="15 4.875" stroke-dashoffset="14.00" stroke-linejoin="round"/>
<polyline points="141.5,1955.8 515,2079.2 600,2108.6" fill="none" stroke="#008000" stroke-width="5.1" stroke-dasharray="15 4.875" stroke-dashoffset="4.64" stroke-linejoin="round"/>
<polyline points="600,2108.6 890,2209 983.9,2241.6 1072.2,2274 1087.8,2279.2 1113.8,2290.9 1139.7,2296.1 1165.7,2306.5 1191.7,2318.2 1243.6,2336.4 1270,2345.5 1311.9,2362.3 1348.3,2375.3 1356.1,2376.6 1358,2382 1366.5,2381.8 1374.3,2388.3 1400,2397.2" fill="none" stroke="#008000" stroke-width="5.1" stroke-dasharray="15 4.875" stroke-dashoffset="16.25" stroke-linejoin="round"/>
<polyline points="1400,2397.2 1415.8,2402.6 1426.2,2407.8 1439.2,2407.8 1452.2,2416.9 1467.8,2424.7 1493.8,2433.8 1519.7,2439 1545.7,2451.9 1571.7,2467.5 1584.7,2472.7 1595,2475.3 1623.6,2488.3 1645,2495.8 1650.4,2496.8 1673.8,2511.6 1686.8,2511.6 1743.9,2542.2 1793.2,2566.1 1837,2566.6 1855.3,2592.7 1894.6,2592.7 1901.8,2621.9 1914.9,2622.3 2036.6,2661.3" fill="none" stroke="#008000" stroke-width="5.1" stroke-dasharray="15 4.875" stroke-dashoffset="19.03" stroke-linejoin="round"/>
</g>
<rect x="141.5" y="1844.5" width="1955" height="1358.9" fill="none" stroke="#000" stroke-width="3.0"/>
<g stroke="#000" stroke-width="3.0">
<line x1="141.5" x2="141.5" y1="3203.4" y2="3213.2"/>
</g><g stroke="#000" stroke-width="2.1">
<line x1="1056" x2="1056" y1="3203.4" y2="3210"/>
<line x1="1591" x2="1591" y1="3203.4" y2="3210"/>
<line x1="1970.6" x2="1970.6" y1="3203.4" y2="3210"/>
</g><g stroke="#000" stroke-width="3.0">
<line x1="132.7" x2="141.5" y1="1844.5" y2="1844.5"/>
<line x1="132.7" x2="141.5" y1="2160.4" y2="2160.4"/>
<line x1="132.7" x2="141.5" y1="2476.4" y2="2476.4"/>
<line x1="132.7" x2="141.5" y1="2792.3" y2="2792.3"/>
<line x1="132.7" x2="141.5" y1="3108.3" y2="3108.3"/>
</g><g stroke="#000" stroke-width="2.1">
<line x1="135.9" x2="141.5" y1="2065.3" y2="2065.3"/>
<line x1="135.9" x2="141.5" y1="2009.7" y2="2009.7"/>
<line x1="135.9" x2="141.5" y1="1970.2" y2="1970.2"/>
<line x1="135.9" x2="141.5" y1="1939.6" y2="1939.6"/>
<line x1="135.9" x2="141.5" y1="1914.6" y2="1914.6"/>
<line x1="135.9" x2="141.5" y1="1893.4" y2="1893.4"/>
<line x1="135.9" x2="141.5" y1="1875.1" y2="1875.1"/>
<line x1="135.9" x2="141.5" y1="1859" y2="1859"/>
<line x1="135.9" x2="141.5" y1="2381.3" y2="2381.3"/>
<line x1="135.9" x2="141.5" y1="2325.7" y2="2325.7"/>
<line x1="135.9" x2="141.5" y1="2286.2" y2="2286.2"/>
<line x1="135.9" x2="141.5" y1="2255.6" y2="2255.6"/>
<line x1="135.9" x2="141.5" y1="2230.5" y2="2230.5"/>
<line x1="135.9" x2="141.5" y1="2209.4" y2="2209.4"/>
<line x1="135.9" x2="141.5" y1="2191.1" y2="2191.1"/>
<line x1="135.9" x2="141.5" y1="2174.9" y2="2174.9"/>
<line x1="135.9" x2="141.5" y1="2697.2" y2="2697.2"/>
<line x1="135.9" x2="141.5" y1="2641.6" y2="2641.6"/>
<line x1="135.9" x2="141.5" y1="2602.1" y2="2602.1"/>
<line x1="135.9" x2="141.5" y1="2571.5" y2="2571.5"/>
<line x1="135.9" x2="141.5" y1="2546.5" y2="2546.5"/>
<line x1="135.9" x2="141.5" y1="2525.3" y2="2525.3"/>
<line x1="135.9" x2="141.5" y1="2507" y2="2507"/>
<line x1="135.9" x2="141.5" y1="2490.9" y2="2490.9"/>
<line x1="135.9" x2="141.5" y1="3013.2" y2="3013.2"/>
<line x1="135.9" x2="141.5" y1="2957.6" y2="2957.6"/>
<line x1="135.9" x2="141.5" y1="2918.1" y2="2918.1"/>
<line x1="135.9" x2="141.5" y1="2887.5" y2="2887.5"/>
<line x1="135.9" x2="141.5" y1="2862.4" y2="2862.4"/>
<line x1="135.9" x2="141.5" y1="2841.3" y2="2841.3"/>
<line x1="135.9" x2="141.5" y1="2823" y2="2823"/>
<line x1="135.9" x2="141.5" y1="2806.8" y2="2806.8"/>
<line x1="135.9" x2="141.5" y1="3203.4" y2="3203.4"/>
<line x1="135.9" x2="141.5" y1="3178.4" y2="3178.4"/>
<line x1="135.9" x2="141.5" y1="3157.2" y2="3157.2"/>
<line x1="135.9" x2="141.5" y1="3138.9" y2="3138.9"/>
<line x1="135.9" x2="141.5" y1="3122.8" y2="3122.8"/>
</g>
<g font-family="'DejaVu Sans','Liberation Sans',sans-serif" font-size="25.3px" fill="#000" filter="url(#thr)">
<text x="122.6" y="1854.2" text-anchor="end">10<tspan dx="0.8" dy="-9" font-size="17.7px">−2</tspan></text>
<text x="122.6" y="2170.1" text-anchor="end">10<tspan dx="0.8" dy="-9" font-size="17.7px">−3</tspan></text>
<text x="122.6" y="2486.1" text-anchor="end">10<tspan dx="0.8" dy="-9" font-size="17.7px">−4</tspan></text>
<text x="122.6" y="2802" text-anchor="end">10<tspan dx="0.8" dy="-9" font-size="17.7px">−5</tspan></text>
<text x="122.6" y="3118" text-anchor="end">10<tspan dx="0.8" dy="-9" font-size="17.7px">−6</tspan></text>
<text x="141" y="3240.8" text-anchor="middle">10<tspan dx="-0.8" dy="-8.8" font-size="17.7px">3</tspan></text>
<text x="1055.4" y="3236.8" text-anchor="middle">2<tspan dx="5.1">×</tspan><tspan dx="5.1">10</tspan><tspan dx="-0.8" dy="-8.8" font-size="17.7px">3</tspan></text>
<text x="1590.4" y="3236.8" text-anchor="middle">3<tspan dx="5.1">×</tspan><tspan dx="5.1">10</tspan><tspan dx="-0.8" dy="-8.8" font-size="17.7px">3</tspan></text>
<text x="1970" y="3236.8" text-anchor="middle">4<tspan dx="5.1">×</tspan><tspan dx="5.1">10</tspan><tspan dx="-0.8" dy="-8.8" font-size="17.7px">3</tspan></text>
</g>
<text x="1119.5" y="3288.4" text-anchor="middle" font-family="'DejaVu Sans','Liberation Sans',sans-serif" font-size="40.4px" filter="url(#thr)">House Price(k$)</text>
<text transform="translate(46 2524) rotate(-90)" text-anchor="middle" font-family="'DejaVu Sans','Liberation Sans',sans-serif" font-size="40.4px" filter="url(#thr)">CCDF</text>
<rect x="1878.9" y="1856.7" width="205.1" height="190.8" rx="5" ry="5" fill="#fff" fill-opacity="0.8" stroke="#ccc" stroke-width="3.6"/>
<circle cx="1913.6" cy="1879.2" r="7.2" fill="#000"/>
<g fill="none" stroke="#008000" stroke-width="4" stroke-linejoin="miter">
<path d="M1894.8 1932.2L1932.3 1932.2L1913.6 1894.8Z"/>
<path d="M1894.8 1932.2L1932.3 1932.2L1913.6 1969.8Z"/>
</g>
<line x1="1886.5" x2="1940.8" y1="1986.5" y2="1986.5" stroke="#008000" stroke-width="4.8"/>
<line x1="1888" x2="1939" y1="2023.2" y2="2023.2" stroke="#008000" stroke-width="4.8" stroke-dasharray="15.6 4.6"/>
<g font-family="'DejaVu Sans','Liberation Sans',sans-serif" font-size="25.3px" fill="#000" filter="url(#thr)">
<text x="1958.8" y="1885.6">data</text>
<text x="1958.8" y="1921.9">pDKs</text>
<text x="1958.8" y="1959">nDKs</text>
<text x="1958.8" y="1995.3">Linear Fit</text>
<text x="1958.8" y="2032.1">LF CI</text>
</g>
</g>
</svg>
</body></html>
